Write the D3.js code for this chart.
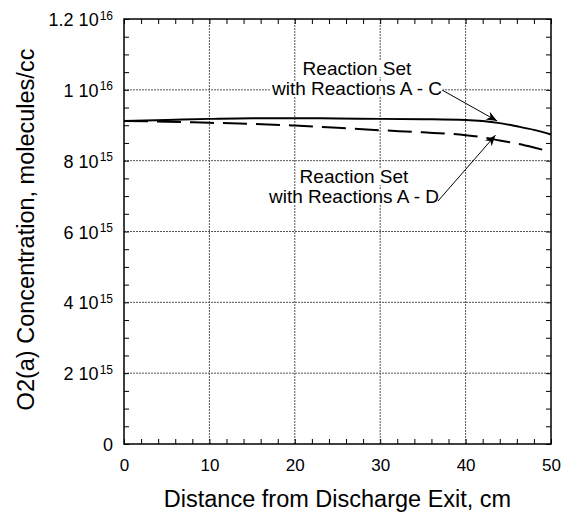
<!DOCTYPE html>
<html>
<head>
<meta charset="utf-8">
<script src="https://cdn.jsdelivr.net/npm/d3@7/dist/d3.min.js"></script>
<style>
  body { margin: 0; background: #fff; }
  text { font-family: "Liberation Sans", Arial, sans-serif; }
</style>
</head>
<body>
<div id="chart"></div>
<script>
// data
const distance = [0, 5, 10, 15, 20, 25, 30, 35, 40, 42, 44, 46, 48, 50];
const setAC = [9.12e15, 9.15e15, 9.18e15, 9.2e15, 9.2e15, 9.19e15, 9.18e15, 9.17e15, 9.15e15, 9.12e15, 9.06e15, 8.97e15, 8.87e15, 8.74e15];
const setAD = [9.12e15, 9.1e15, 9.07e15, 9.04e15, 8.99e15, 8.93e15, 8.86e15, 8.8e15, 8.72e15, 8.66e15, 8.57e15, 8.48e15, 8.37e15, 8.25e15];
const xTicks = [0, 10, 20, 30, 40, 50];
const yTicks = [0, 2e15, 4e15, 6e15, 8e15, 1e16, 1.2e16];
const yTickLabels = [["0", ""], ["2 10", "15"], ["4 10", "15"], ["6 10", "15"], ["8 10", "15"], ["1 10", "16"], ["1.2 10", "16"]];

const W = 565, H = 512;
const margin = {top: 19, right: 14, bottom: 68, left: 124};
const width = W - margin.left - margin.right,
      height = H - margin.top - margin.bottom;

const svg = d3.select("#chart").append("svg")
    .attr("width", W).attr("height", H);
const g = svg.append("g")
    .attr("transform", `translate(${margin.left},${margin.top})`);

const x = d3.scaleLinear().domain([0, 50]).range([0, width]);
const y = d3.scaleLinear().domain([0, 1.2e16]).range([height, 0]);

const xMinor = d3.range(0, 50.01, 2);
const yMinor = d3.range(0, 1.2001e16, 5e14);

// grid
g.append("g").selectAll("line").data(xTicks.slice(1, -1)).join("line")
    .attr("x1", d => x(d)).attr("x2", d => x(d))
    .attr("y1", 0).attr("y2", height)
    .attr("stroke", "#555").attr("stroke-width", 1).attr("stroke-dasharray", "2,1");
g.append("g").selectAll("line").data(yTicks.slice(1, -1)).join("line")
    .attr("y1", d => y(d)).attr("y2", d => y(d))
    .attr("x1", 0).attr("x2", width)
    .attr("stroke", "#555").attr("stroke-width", 1).attr("stroke-dasharray", "2,1");

// minor ticks on all four sides
const fmtNone = () => "";
g.append("g").attr("transform", `translate(0,${height})`)
  .call(d3.axisBottom(x).tickValues(xMinor).tickSize(-5).tickFormat(fmtNone));
g.append("g")
  .call(d3.axisTop(x).tickValues(xMinor).tickSize(-5).tickFormat(fmtNone));
g.append("g")
  .call(d3.axisLeft(y).tickValues(yMinor).tickSize(-5).tickFormat(fmtNone));
g.append("g").attr("transform", `translate(${width},0)`)
  .call(d3.axisRight(y).tickValues(yMinor).tickSize(-5).tickFormat(fmtNone));
g.selectAll(".domain").remove();
g.selectAll(".tick line").attr("stroke", "#000").attr("stroke-width", 1);

// labelled axes
const xAxis = g.append("g").attr("transform", `translate(0,${height})`)
  .call(d3.axisBottom(x).tickValues(xTicks).tickSize(0).tickPadding(0).tickFormat(d3.format("d")));
xAxis.select(".domain").remove();
xAxis.selectAll("text").attr("font-size", 17).attr("fill", "#000").attr("dy", null).attr("y", 27);

const yAxis = g.append("g")
  .call(d3.axisLeft(y).tickValues(yTicks).tickSize(0).tickPadding(11).tickFormat(""));
yAxis.select(".domain").remove();
yAxis.selectAll(".tick text").each(function(d, i) {
  const t = d3.select(this).attr("font-size", 18).attr("fill", "#000").attr("dy", null).attr("y", 6.5);
  const lab = yTickLabels[i];
  t.append("tspan").text(lab[0]);
  if (lab[1]) t.append("tspan").attr("font-size", 12).attr("dy", -6.5).attr("dx", 1).text(lab[1]);
});

// frame
g.append("rect").attr("width", width).attr("height", height)
  .attr("fill", "none").attr("stroke", "#000").attr("stroke-width", 1.5);

// curves
const line = d3.line().curve(d3.curveMonotoneX)
  .x((d, i) => x(distance[i])).y(d => y(d));
g.append("path").datum(setAC).attr("d", line)
  .attr("fill", "none").attr("stroke", "#000").attr("stroke-width", 2);
g.append("path").datum(setAD).attr("d", line)
  .attr("fill", "none").attr("stroke", "#000").attr("stroke-width", 2)
  .attr("stroke-dasharray", "24,9");

// annotations
svg.append("defs").append("marker")
  .attr("id", "arr").attr("viewBox", "0 0 10 10").attr("refX", 10).attr("refY", 5)
  .attr("markerWidth", 11).attr("markerHeight", 11).attr("markerUnits", "userSpaceOnUse")
  .attr("orient", "auto")
  .append("path").attr("d", "M0,1 L10,5 L0,9 L3,5 Z").attr("fill", "#000");

const notes = [
  {lines: ["Reaction Set", "with Reactions A - C"], cx: 357, y0: 75, from: [442, 90], to: [43.7, 9.12e15]},
  {lines: ["Reaction Set", "with Reactions A - D"], cx: 354, y0: 183, from: [438, 201], to: [43.5, 8.72e15]}
];
notes.forEach(n => {
  const tg = svg.append("g");
  n.lines.forEach((s, i) => {
    const tx = tg.append("text").attr("x", n.cx).attr("y", n.y0 + i * 20)
      .attr("text-anchor", "middle").attr("font-size", 19).attr("fill", "#000").text(s);
    const bb = tx.node().getBBox();
    tg.insert("rect", "text").attr("x", bb.x - 1).attr("y", bb.y + 3).attr("width", bb.width + 2).attr("height", bb.height - 5)
      .attr("fill", "#fff");
  });
  svg.append("line")
    .attr("x1", n.from[0]).attr("y1", n.from[1])
    .attr("x2", margin.left + x(n.to[0])).attr("y2", margin.top + y(n.to[1]))
    .attr("stroke", "#000").attr("stroke-width", 1).attr("marker-end", "url(#arr)");
});

// axis titles
svg.append("text").attr("x", margin.left + width / 2).attr("y", 507)
  .attr("text-anchor", "middle").attr("font-size", 23.5).text("Distance from Discharge Exit, cm");
svg.append("text").attr("transform", `translate(34,${margin.top + height / 2 - 2}) rotate(-90)`)
  .attr("text-anchor", "middle").attr("font-size", 23.5).text("O2(a) Concentration, molecules/cc");
</script>
</body>
</html>
